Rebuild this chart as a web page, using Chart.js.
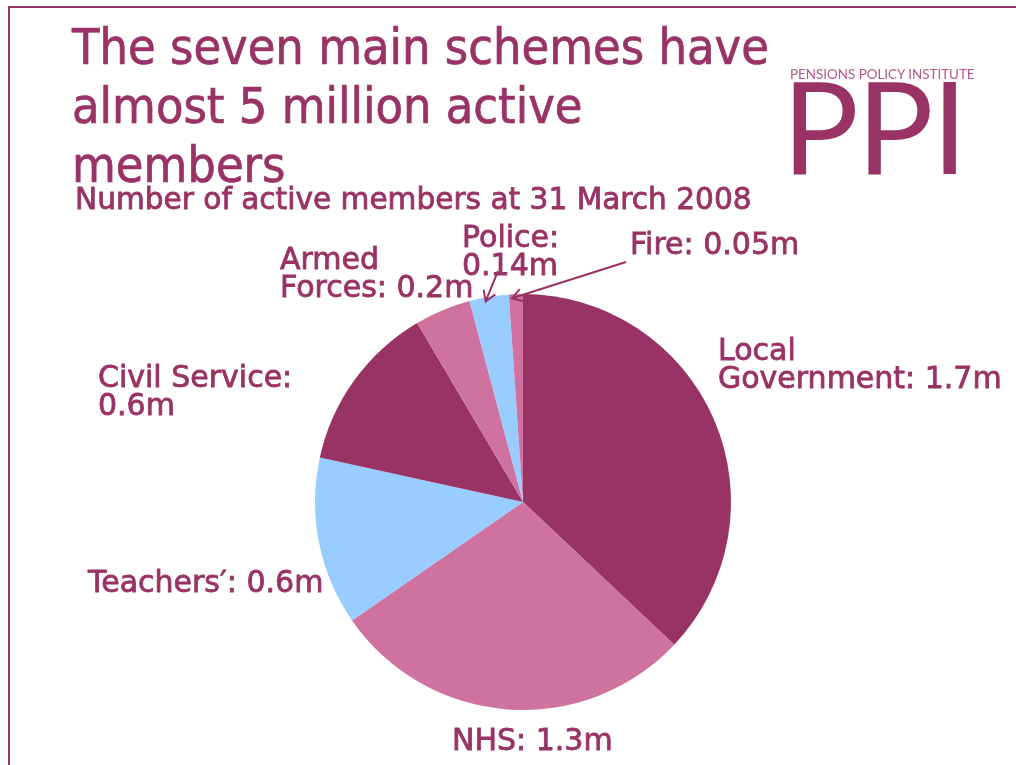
<!DOCTYPE html>
<html>
<head>
<meta charset="utf-8">
<script src="https://cdn.jsdelivr.net/npm/chart.js@4/dist/chart.umd.min.js"></script>
<style>
  html, body { margin: 0; padding: 0; background: #fff; }
  #wrap { position: relative; width: 1016px; height: 765px; overflow: hidden; }
  #frameTop { position: absolute; left: 8px; top: 6px; width: 1008px; height: 2px; background: #993366; }
  #frameLeft { position: absolute; left: 8px; top: 6px; width: 2px; height: 759px; background: #993366; }
  canvas { position: absolute; left: 0; top: 0; }
  .txt { position: absolute; color: #993366; white-space: pre; font-family: 'DejaVu Sans', sans-serif; }
  #title { left: 72px; top: 18px; font-family: 'DejaVu Sans Condensed', 'DejaVu Sans', sans-serif;
           font-size: 50px; line-height: 59px; -webkit-text-stroke: 0.7px #993366; }
  #subtitle { left: 75px; top: 181px; font-size: 29.6px; line-height: 36px; -webkit-text-stroke: 0.8px #993366; }
  .lbl { font-size: 30px; line-height: 28px; -webkit-text-stroke: 0.8px #993366; }
  #brandSmall { left: 790px; top: 66px; font-family: Lato, sans-serif; font-size: 13.4px; color: #b5568a; }
  #brandBig { left: 782px; top: 55px; font-family: Lato, sans-serif; font-weight: 400; font-size: 128px; line-height: 140px; color: #993366; letter-spacing: -2px; }
</style>
</head>
<body>
<div id="wrap">
  <canvas id="pie" width="1016" height="765"></canvas>
  <div id="frameTop"></div>
  <div id="frameLeft"></div>
  <div class="txt" id="title">The seven main schemes have
almost 5 million active
members</div>
  <div class="txt" id="subtitle">Number of active members at 31 March 2008</div>
  <div class="txt" id="brandSmall">PENSIONS POLICY INSTITUTE</div>
  <div class="txt" id="brandBig">PPI</div>
</div>
<script>
// active members, millions, at 31 March 2008
const schemes = ['Local Government', 'NHS', 'Teachers\u2019', 'Civil Service', 'Armed Forces', 'Police', 'Fire'];
const members = [1.7, 1.3, 0.6, 0.6, 0.2, 0.14, 0.05];
const labelText = ['Local\nGovernment: 1.7m', 'NHS: 1.3m', 'Teachers\u2032: 0.6m', 'Civil Service:\n0.6m',
                   'Armed\nForces: 0.2m', 'Police:\n0.14m', 'Fire: 0.05m'];
const sliceColours = ['#993366', '#cf72a0', '#99ccff', '#993366', '#cf72a0', '#99ccff', '#cf72a0'];

// where each label box sits on the page
const labelPos = [[718, 336], [452, 726], [88, 568], [98, 363], [280, 245], [462, 223], [630, 230]];

const wrap = document.getElementById('wrap');
schemes.forEach((s, i) => {
  const d = document.createElement('div');
  d.className = 'txt lbl';
  d.textContent = labelText[i];
  d.style.left = labelPos[i][0] + 'px';
  d.style.top = labelPos[i][1] + 'px';
  wrap.appendChild(d);
});

// arrows from the small labels down to their slices
const arrowFrom = { 5: [498, 271], 6: [626, 262] };

const arrowPlugin = {
  id: 'arrows',
  afterDatasetsDraw(chart) {
    const ctx = chart.ctx;
    const arcs = chart.getDatasetMeta(0).data;
    ctx.save();
    ctx.strokeStyle = '#993366';
    ctx.lineWidth = 2;
    Object.keys(arrowFrom).forEach(k => {
      const arc = arcs[k];
      const mid = (arc.startAngle + arc.endAngle) / 2 - 0.02;
      const r = arc.outerRadius - 4;
      const tx = arc.x + Math.cos(mid) * r;
      const ty = arc.y + Math.sin(mid) * r;
      const [fx, fy] = arrowFrom[k];
      const a = Math.atan2(ty - fy, tx - fx);
      ctx.beginPath();
      ctx.moveTo(fx, fy);
      ctx.lineTo(tx, ty);
      ctx.moveTo(tx - 12 * Math.cos(a - 0.55), ty - 12 * Math.sin(a - 0.55));
      ctx.lineTo(tx, ty);
      ctx.lineTo(tx - 12 * Math.cos(a + 0.55), ty - 12 * Math.sin(a + 0.55));
      ctx.stroke();
    });
    ctx.restore();
  }
};

new Chart(document.getElementById('pie'), {
  type: 'pie',
  data: {
    labels: schemes,
    datasets: [{
      data: members,
      backgroundColor: sliceColours,
      borderWidth: 0,
      hoverOffset: 0
    }]
  },
  options: {
    responsive: false,
    animation: false,
    layout: { padding: { left: 315, right: 285, top: 294, bottom: 55 } },
    plugins: { legend: { display: false }, tooltip: { enabled: false } }
  },
  plugins: [arrowPlugin]
});
</script>
</body>
</html>
